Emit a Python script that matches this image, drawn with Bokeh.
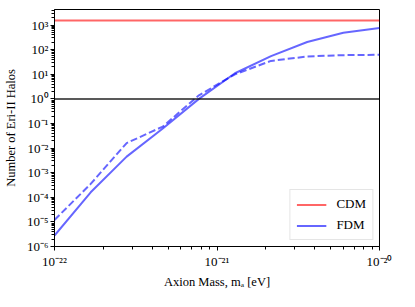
from bokeh.plotting import figure
from bokeh.models import FixedTicker, CustomJSTickFormatter, Range1d
from bokeh.embed import file_html
from bokeh.resources import INLINE

# ---- data ----
axion_mass = [1.0e-22, 1.67e-22, 2.78e-22, 4.64e-22, 7.74e-22,
              1.29e-21, 2.15e-21, 3.59e-21, 5.99e-21, 1.0e-20]
fdm_solid = [2.8e-6, 1.6e-4, 4.5e-3, 6.3e-2, 1.0,
             1.1e1, 5.5e1, 2.05e2, 4.9e2, 7.6e2]
fdm_dashed = [1.2e-5, 3.5e-4, 1.6e-2, 7.5e-2, 1.4,
              1.0e1, 3.5e1, 5.3e1, 6.0e1, 6.2e1]
cdm_count = 1550.0
threshold = 1.0

x_ticks = [1e-22, 1e-21, 1e-20]
y_ticks = [1e-6, 1e-5, 1e-4, 1e-3, 1e-2, 1e-1, 1e0, 1e1, 1e2, 1e3]
x_limits = (1e-22, 1e-20)
y_limits = (1e-6, 4.3e3)

FONT = "Liberation Serif"

p = figure(width=399, height=291, x_axis_type="log", y_axis_type="log",
           output_backend="svg", toolbar_location=None,
           x_range=Range1d(*x_limits), y_range=Range1d(*y_limits),
           min_border_left=51, min_border_right=20,
           min_border_top=9, min_border_bottom=40)

p.background_fill_color = "white"
p.border_fill_color = "white"
p.outline_line_color = "black"
p.outline_line_width = 1
p.grid.visible = False

# lines
p.line([axion_mass[0], axion_mass[-1]], [cdm_count, cdm_count],
       line_color="red", line_alpha=0.6, line_width=2, legend_label="CDM")
p.line(axion_mass, fdm_solid, line_color="blue", line_alpha=0.6,
       line_width=2, legend_label="FDM")
p.line(axion_mass, fdm_dashed, line_color="blue", line_alpha=0.6,
       line_width=2, line_dash="7 3")
p.line([axion_mass[0], axion_mass[-1]], [threshold, threshold],
       line_color="black", line_alpha=0.65, line_width=2)

# ticks
def minors(majors):
    out = []
    for m in majors[:-1]:
        out += [k * m for k in range(2, 10)]
    return out

y_minor_base = [1e-7] + y_ticks + [1e4]
p.xaxis.ticker = FixedTicker(ticks=x_ticks, minor_ticks=minors(x_ticks))
p.yaxis.ticker = FixedTicker(ticks=y_ticks, minor_ticks=minors(y_minor_base))

fmt = CustomJSTickFormatter(code="""
const e = Math.round(Math.log10(tick));
const sup = {'-':'\u207b','0':'\u2070','1':'\u00b9','2':'\u00b2','3':'\u00b3',
             '4':'\u2074','5':'\u2075','6':'\u2076','7':'\u2077','8':'\u2078','9':'\u2079'};
return '10' + String(e).split('').map(c => sup[c]).join('');
""")
p.xaxis.formatter = fmt
p.yaxis.formatter = fmt

for ax in (p.xaxis, p.yaxis):
    ax.major_label_text_font = FONT
    ax.major_label_text_font_size = "13px"
    ax.major_label_text_color = "black"
    ax.axis_label_text_font = FONT
    ax.axis_label_text_font_size = "12.5px"
    ax.axis_label_text_font_style = "normal"
    ax.axis_label_text_color = "black"
    ax.major_tick_in = 0
    ax.major_tick_out = 4
    ax.minor_tick_in = 0
    ax.minor_tick_out = 3
    ax.minor_tick_line_width = 1
    ax.axis_line_color = "black"
    ax.major_tick_line_color = "black"
    ax.minor_tick_line_color = "black"

p.xaxis.axis_label = "Axion Mass, m\u2090 [eV]"
p.yaxis.axis_label = "Number of Eri-II Halos"
p.xaxis.major_label_standoff = 3
p.yaxis.major_label_standoff = 2
p.xaxis.axis_label_standoff = 3
p.yaxis.axis_label_standoff = 6

# legend
p.legend.location = "bottom_right"
p.legend.label_text_font = FONT
p.legend.label_text_font_size = "13px"
p.legend.label_text_color = "black"
p.legend.border_line_color = "#cccccc"
p.legend.border_line_width = 1
p.legend.background_fill_alpha = 0.8
p.legend.glyph_width = 30
p.legend.glyph_height = 13
p.legend.label_height = 13
p.legend.spacing = 5
p.legend.padding = 6
p.legend.margin = 6
p.legend.label_standoff = 10

open("out.html", "w").write(file_html(p, INLINE))
